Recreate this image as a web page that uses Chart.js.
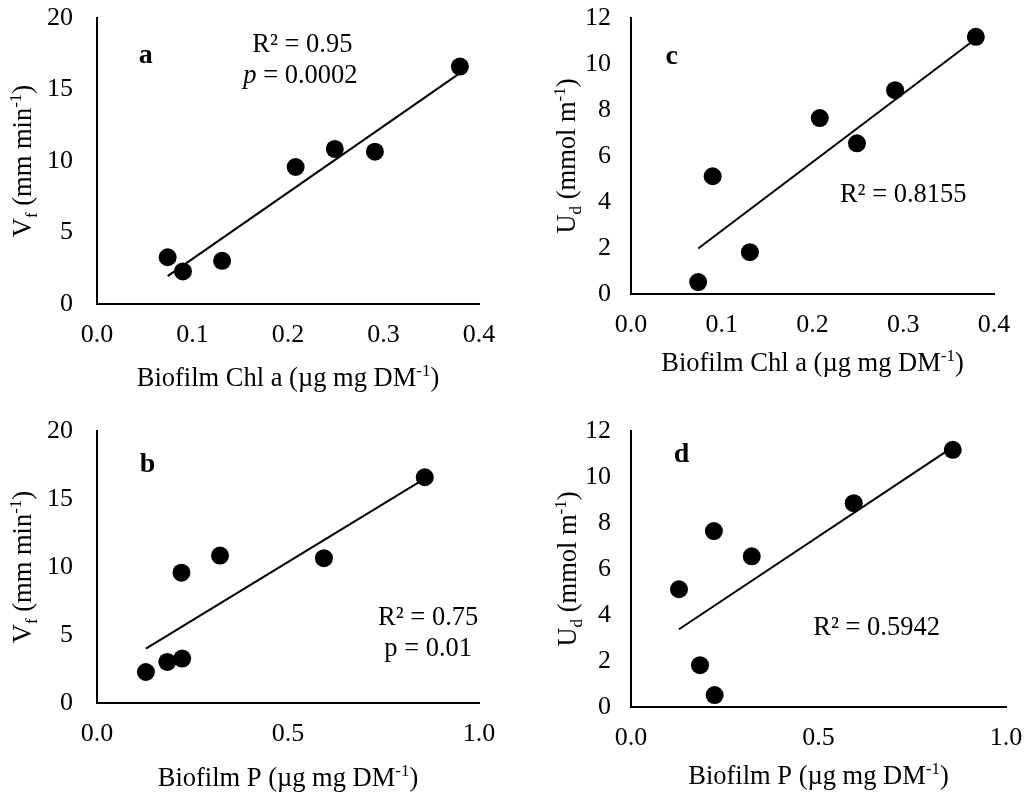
<!DOCTYPE html>
<html>
<head>
<meta charset="utf-8">
<script src="https://cdn.jsdelivr.net/npm/chart.js@4.4.1/dist/chart.umd.min.js"></script>
<style>
  body { margin: 0; background: #fff; }
  .panel { position: absolute; }
</style>
</head>
<body>
<div class="panel" style="left:0;top:0"><canvas id="chartA" width="514" height="400"></canvas></div>
<div class="panel" style="left:514px;top:0"><canvas id="chartC" width="514" height="400"></canvas></div>
<div class="panel" style="left:0;top:400px"><canvas id="chartB" width="514" height="395"></canvas></div>
<div class="panel" style="left:514px;top:400px"><canvas id="chartD" width="514" height="395"></canvas></div>
<script>
// Seven biofilm samples
const chlA = [0.074, 0.090, 0.131, 0.208, 0.249, 0.291, 0.380];
const biofilmP = [0.223, 0.128, 0.184, 0.221, 0.322, 0.594, 0.858];
const vf = [3.27, 2.28, 3.02, 9.58, 10.84, 10.65, 16.6];
const ud = [0.52, 5.12, 1.82, 7.65, 6.55, 8.86, 11.18];

// Trend line end points (x, y)
const trendChlVf = [[0.074, 1.95], [0.380, 16.15]];
const trendChlUd = [[0.074, 1.98], [0.380, 11.1]];
const trendPVf = [[0.128, 4.0], [0.858, 16.5]];
const trendPUd = [[0.128, 3.38], [0.858, 11.3]];

const FONT = '"Liberation Serif", "Times New Roman", serif';

function pairs(xs, ys) {
  return xs.map((x, i) => ({ x: x, y: ys[i] }));
}

// draws a run of text pieces (sub / sup / italic / bold) centred on x
function drawRuns(ctx, runs, x, y, size) {
  let total = 0;
  const parts = runs.map(r => {
    const fs = (r.sub || r.sup) ? Math.round(size * 0.65) : size;
    const font = (r.italic ? 'italic ' : '') + (r.bold ? 'bold ' : '') + fs + 'px ' + FONT;
    ctx.font = font;
    const w = ctx.measureText(r.t).width;
    total += w;
    return { r: r, font: font, w: w };
  });
  let cx = x - total / 2;
  ctx.textAlign = 'left';
  ctx.textBaseline = 'alphabetic';
  parts.forEach(p => {
    const dy = p.r.sub ? size * 0.22 : (p.r.sup ? -size * 0.36 : 0);
    ctx.font = p.font;
    ctx.fillText(p.r.t, cx, y + dy);
    cx += p.w;
  });
}

const textPlugin = {
  id: 'panelText',
  afterDraw(chart, args, opts) {
    const ctx = chart.ctx;
    const area = chart.chartArea;
    const ts = opts.titleSize;
    ctx.save();
    ctx.fillStyle = '#000';
    // x axis title
    drawRuns(ctx, opts.xTitle, (area.left + area.right) / 2, opts.xTitleY + ts * 0.33, ts);
    // y axis title, rotated
    ctx.save();
    ctx.translate(opts.yTitleX, (area.top + area.bottom) / 2);
    ctx.rotate(-Math.PI / 2);
    drawRuns(ctx, opts.yTitle, 0, ts * 0.33, ts);
    ctx.restore();
    // notes in data coordinates
    opts.notes.forEach(n => {
      const px = chart.scales.x.getPixelForValue(n.x);
      const py = chart.scales.y.getPixelForValue(n.y);
      drawRuns(ctx, n.runs, px, py + n.size * 0.33, n.size);
    });
    ctx.restore();
  }
};

function noPad(s) {
  s.paddingTop = 0;
  s.paddingBottom = 0;
  s.paddingLeft = 0;
  s.paddingRight = 0;
}

function makeChart(id, cfg) {
  const axisFont = { family: FONT, size: 26 };
  return new Chart(document.getElementById(id), {
    type: 'scatter',
    data: {
      datasets: [
        {
          data: cfg.points,
          backgroundColor: '#000',
          borderWidth: 0,
          pointRadius: 9,
          pointHoverRadius: 9
        },
        {
          data: cfg.trend.map(p => ({ x: p[0], y: p[1] })),
          showLine: true,
          borderColor: '#000',
          borderWidth: 2,
          pointRadius: 0
        }
      ]
    },
    options: {
      responsive: false,
      animation: false,
      events: [],
      layout: { padding: cfg.padding },
      plugins: {
        legend: { display: false },
        tooltip: { enabled: false },
        panelText: {
          xTitle: cfg.xTitle,
          yTitle: cfg.yTitle,
          xTitleY: cfg.xTitleY,
          yTitleX: cfg.yTitleX,
          titleSize: 26.5,
          notes: cfg.notes
        }
      },
      scales: {
        x: {
          type: 'linear',
          min: 0,
          max: cfg.xMax,
          ticks: {
            stepSize: cfg.xStep,
            padding: 16,
            color: '#000',
            font: axisFont,
            callback: v => v.toFixed(1)
          },
          grid: { display: false, drawTicks: false },
          border: { display: true, color: '#000', width: 2 },
          afterFit: s => { s.height = cfg.xHeight; noPad(s); }
        },
        y: {
          min: 0,
          max: cfg.yMax,
          ticks: {
            stepSize: cfg.yStep,
            padding: cfg.yPad,
            color: '#000',
            font: axisFont
          },
          grid: { display: false, drawTicks: false },
          border: { display: true, color: '#000', width: 2 },
          afterFit: s => { s.width = cfg.yWidth; noPad(s); }
        }
      }
    },
    plugins: [textPlugin]
  });
}

const chlTitle = [{ t: 'Biofilm Chl a (µg mg DM' }, { t: '-1', sup: true }, { t: ')' }];
const pTitle = [{ t: 'Biofilm P (µg mg DM' }, { t: '-1', sup: true }, { t: ')' }];
const vfTitle = [{ t: 'V' }, { t: 'f', sub: true }, { t: ' (mm min' }, { t: '-1', sup: true }, { t: ')' }];
const udTitle = [{ t: 'U' }, { t: 'd', sub: true }, { t: ' (mmol m' }, { t: '-1', sup: true }, { t: ')' }];

makeChart('chartA', {
  points: pairs(chlA, vf),
  trend: trendChlVf,
  xMax: 0.4, xStep: 0.1, yMax: 20, yStep: 5,
  padding: { top: 18, right: 35, left: 0, bottom: 0 },
  xHeight: 96, yWidth: 97, yPad: 24,
  xTitle: chlTitle, yTitle: vfTitle, xTitleY: 377, yTitleX: 22,
  notes: [
    { x: 0.051, y: 17.5, size: 28, runs: [{ t: 'a', bold: true }] },
    { x: 0.215, y: 18.2, size: 26.5, runs: [{ t: 'R² = 0.95' }] },
    { x: 0.213, y: 16.1, size: 26.5, runs: [{ t: 'p', italic: true }, { t: ' = 0.0002' }] }
  ]
});

makeChart('chartC', {
  points: pairs(chlA, ud),
  trend: trendChlUd,
  xMax: 0.4, xStep: 0.1, yMax: 12, yStep: 2,
  padding: { top: 18, right: 34, left: 0, bottom: 0 },
  xHeight: 106, yWidth: 117, yPad: 20,
  xTitle: chlTitle, yTitle: udTitle, xTitleY: 362, yTitleX: 52,
  notes: [
    { x: 0.045, y: 10.4, size: 28, runs: [{ t: 'c', bold: true }] },
    { x: 0.300, y: 4.4, size: 26.5, runs: [{ t: 'R² = 0.8155' }] }
  ]
});

makeChart('chartB', {
  points: pairs(biofilmP, vf),
  trend: trendPVf,
  xMax: 1.0, xStep: 0.5, yMax: 20, yStep: 5,
  padding: { top: 31, right: 35, left: 0, bottom: 0 },
  xHeight: 92, yWidth: 97, yPad: 24,
  xTitle: pTitle, yTitle: vfTitle, xTitleY: 377, yTitleX: 22,
  notes: [
    { x: 0.132, y: 17.7, size: 28, runs: [{ t: 'b', bold: true }] },
    { x: 0.867, y: 6.35, size: 26.5, runs: [{ t: 'R² = 0.75' }] },
    { x: 0.867, y: 4.07, size: 26.5, runs: [{ t: 'p = 0.01' }] }
  ]
});

makeChart('chartD', {
  points: pairs(biofilmP, ud),
  trend: trendPUd,
  xMax: 1.0, xStep: 0.5, yMax: 12, yStep: 2,
  padding: { top: 31, right: 22, left: 0, bottom: 0 },
  xHeight: 88, yWidth: 117, yPad: 20,
  xTitle: pTitle, yTitle: udTitle, xTitleY: 375, yTitleX: 53,
  notes: [
    { x: 0.135, y: 11.07, size: 28, runs: [{ t: 'd', bold: true }] },
    { x: 0.655, y: 3.53, size: 26.5, runs: [{ t: 'R² = 0.5942' }] }
  ]
});
</script>
</body>
</html>
